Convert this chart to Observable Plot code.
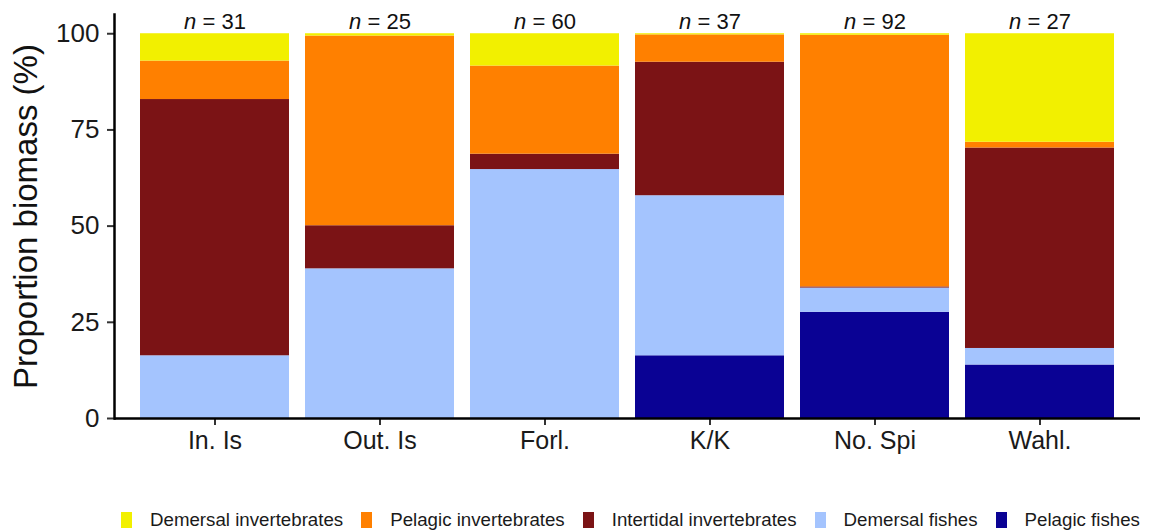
<!DOCTYPE html>
<html><head><meta charset="utf-8">
<script src="https://cdn.jsdelivr.net/npm/d3@7"></script>
<script src="https://cdn.jsdelivr.net/npm/@observablehq/plot@0.6"></script>
<style>
body{margin:0;background:#fff;font-family:"Liberation Sans",Arial,sans-serif;}
#chart svg{display:block;}
#legend{margin-left:121px;margin-top:33px;width:1032px;font-size:18.7px;color:#1a1a1a;}
#legend > div{flex-wrap:nowrap !important;white-space:nowrap;}
#legend span[class$="-swatch"]{margin-right:18px !important;}
#legend span[class$="-swatch"] > svg{margin-right:18px !important;}
</style></head><body><div id="chart"></div><div id="legend"></div>
<script>
// Categories
const sites = ["In. Is", "Out. Is", "Forl.", "K/K", "No. Spi", "Wahl."];
const sampleSizes = [31, 25, 60, 37, 92, 27];
// Series values (% biomass), listed bottom-to-top of stack
const pelagicFishes = [0, 0, 0, 16.3, 27.6, 13.9];
const demersalFishes = [16.3, 38.9, 64.7, 41.6, 6.3, 4.3];
const intertidalInvertebrates = [66.6, 11.2, 4.0, 34.7, 0.3, 52.1];
const pelagicInvertebrates = [10.0, 49.3, 22.9, 7.1, 65.4, 1.5];
const demersalInvertebrates = [7.1, 0.6, 8.4, 0.3, 0.4, 28.2];
const yTicks = [0, 25, 50, 75, 100];
const legendOrder = ["Demersal invertebrates", "Pelagic invertebrates", "Intertidal invertebrates", "Demersal fishes", "Pelagic fishes"];
const legendColors = ["#F2F000", "#FF8000", "#7B1315", "#A4C4FE", "#0A0294"];

const stackSeries = [
  ["Pelagic fishes", pelagicFishes],
  ["Demersal fishes", demersalFishes],
  ["Intertidal invertebrates", intertidalInvertebrates],
  ["Pelagic invertebrates", pelagicInvertebrates],
  ["Demersal invertebrates", demersalInvertebrates]
];
const rows = [];
stackSeries.forEach(([name, vals]) => sites.forEach((site, i) => rows.push({site, group: name, value: vals[i]})));
const nLabels = sites.map((site, i) => ({site, label: `n = ${sampleSizes[i]}`}));

const font = "Liberation Sans, Arial, sans-serif";
const chart = Plot.plot({
  width: 1153, height: 470,
  marginLeft: 114, marginRight: 13, marginTop: 14, marginBottom: 52,
  style: {fontFamily: font, color: "#1a1a1a", background: "#fff"},
  x: {domain: sites, paddingInner: 0.1, paddingOuter: 0.15, label: null},
  y: {domain: [0, 105], label: null},
  color: {domain: legendOrder, range: legendColors},
  marks: [
    Plot.barY(rows, {x: "site", y: "value", fill: "group"}),
    Plot.text(nLabels, {x: "site", y: 100, text: "label", dy: -12, fontSize: 22, fill: "#111"}),
    Plot.axisY({ticks: yTicks, tickSize: 7, tickPadding: 8, fontSize: 26, label: null, stroke: "#333", strokeWidth: 2, fill: "#1a1a1a"}),
    Plot.axisX({tickSize: 7, tickPadding: 6, fontSize: 25, label: null, stroke: "#333", strokeWidth: 2, fill: "#1a1a1a"}),
    Plot.text(["Proportion biomass (%)"], {frameAnchor: "left", textAnchor: "middle", lineAnchor: "middle", rotate: -90, dx: -88, fontSize: 33, fill: "#111"}),
    Plot.ruleY([0], {stroke: "#000", strokeWidth: 2.5}),
    Plot.frame({anchor: "left", stroke: "#000", strokeWidth: 2.5})
  ]
});
d3.select(chart).selectAll("text").each(function() {
  const t = this.textContent;
  if (t.startsWith("n = ")) {
    this.textContent = "";
    d3.select(this).append("tspan").attr("font-style", "italic").text("n");
    d3.select(this).append("tspan").text(t.slice(1));
  }
});
document.getElementById("chart").append(chart);

const legend = Plot.legend({
  color: {domain: legendOrder, range: legendColors},
  legend: "swatches", swatchWidth: 11, swatchHeight: 16,
  style: {fontSize: "18.7px", fontFamily: font}
});
document.getElementById("legend").append(legend);
</script></body></html>
